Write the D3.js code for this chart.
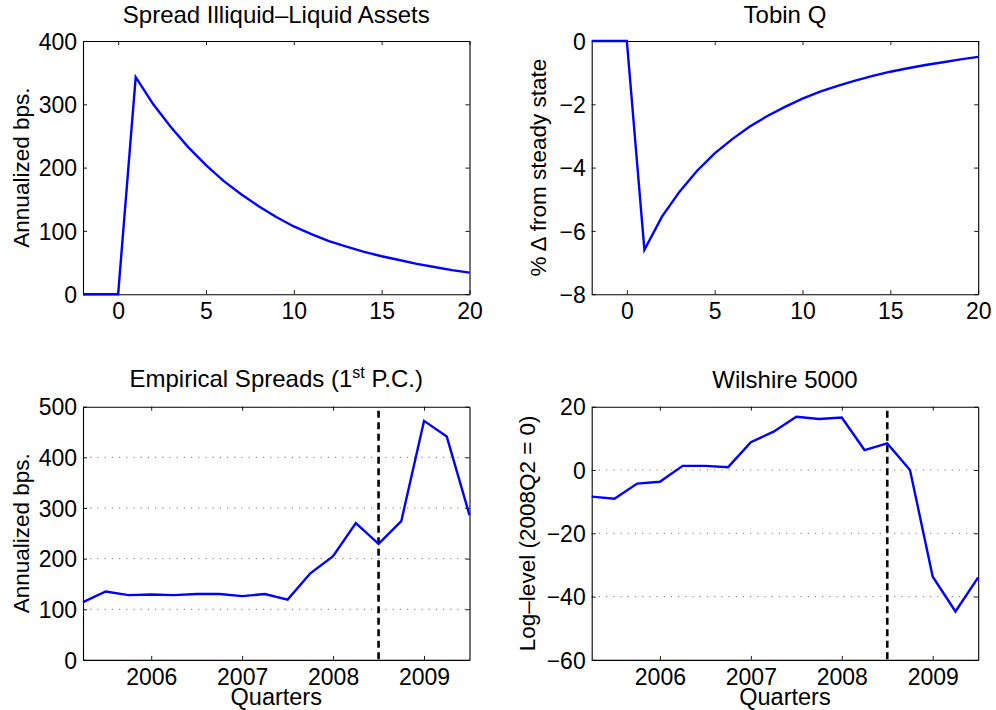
<!DOCTYPE html>
<html>
<head>
<meta charset="utf-8">
<script src="https://cdn.jsdelivr.net/npm/d3@7"></script>
<style>
    body { margin: 0; background: #fff; }
    text { font-family: "Liberation Sans", Arial, Helvetica, sans-serif; fill: #000; }
</style>
</head>
<body>
<svg id="chart" width="996" height="710"></svg>
<script>
// impulse responses, horizon in quarters
var horizon = [-2, -1, 0, 1, 2, 3, 4, 5, 6, 7, 8, 9, 10, 11, 12, 13, 14, 15, 16, 17, 18, 19, 20];
var spreadIRF = [0, 0, 0, 343, 300, 264, 232, 204, 179, 158, 139, 122, 107, 95, 84, 75, 67, 60, 54, 48, 43, 38, 34];
var tobinQIRF = [0, 0, 0, -6.6, -5.55, -4.76, -4.1, -3.55, -3.1, -2.7, -2.37, -2.08, -1.82, -1.6, -1.42, -1.25, -1.1, -0.97, -0.86, -0.76, -0.67, -0.58, -0.5];

// empirical data
var quarters = ["2005Q2", "2005Q3", "2005Q4", "2006Q1", "2006Q2", "2006Q3", "2006Q4", "2007Q1", "2007Q2",
    "2007Q3", "2007Q4", "2008Q1", "2008Q2", "2008Q3", "2008Q4", "2009Q1", "2009Q2", "2009Q3"];
var empiricalSpreads = [114, 135, 128, 129, 128, 130, 130, 126, 130, 119, 171, 205, 270, 229, 274, 472, 441, 286];
var wilshire5000 = [-8.4, -9.1, -4.3, -3.7, 1.3, 1.3, 0.9, 8.8, 12.1, 16.8, 16.1, 16.6, 6.3, 8.4, 0, -33.7, -44.7, -33.9];
var yearTicks = [2006, 2007, 2008, 2009];
var crisisQuarter = "2008Q3";

function quarterToNum(q) {
    return +q.slice(0, 4) + (+q.slice(5) - 1) / 4;
}

var svg = d3.select("#chart");

function drawPanel(cfg) {
    var g = svg.append("g").attr("transform", "translate(" + cfg.left + "," + cfg.top + ")");
    var w = cfg.width, h = cfg.height;

    var x = d3.scaleLinear().domain(cfg.xDomain).range([0, w]);
    var y = d3.scaleLinear().domain(cfg.yDomain).range([h, 0]);

    // dotted grid on inner y ticks
    if (cfg.grid) {
        g.append("g").selectAll("line")
            .data(cfg.yTicks.filter(function (d) {
                return d !== cfg.yDomain[0] && d !== cfg.yDomain[1];
            }))
            .enter().append("line")
            .attr("x1", 0).attr("x2", w)
            .attr("y1", function (d) { return y(d); })
            .attr("y2", function (d) { return y(d); })
            .attr("stroke", "#666")
            .attr("stroke-width", 0.9)
            .attr("stroke-dasharray", "1.2,6");
    }

    // axes, ticks pointing inwards, box on
    var tl = 4;
    var xAxis = g.append("g").attr("transform", "translate(0," + h + ")")
        .call(d3.axisBottom(x).tickValues(cfg.xTicks).tickSizeInner(-tl).tickSizeOuter(0)
            .tickFormat(d3.format("d")));
    xAxis.selectAll(".tick text").attr("y", cfg.xLabelOffset).attr("dy", 0);

    g.append("g")
        .call(d3.axisTop(x).tickValues(cfg.xTicks).tickSizeInner(-tl).tickSizeOuter(0).tickFormat(""));

    var yAxis = g.append("g")
        .call(d3.axisLeft(y).tickValues(cfg.yTicks).tickSizeInner(-tl).tickSizeOuter(0)
            .tickFormat(d3.format("d")));
    yAxis.selectAll(".tick text").attr("x", -6).attr("dy", "0.36em");

    g.append("g").attr("transform", "translate(" + w + ",0)")
        .call(d3.axisRight(y).tickValues(cfg.yTicks).tickSizeInner(-tl).tickSizeOuter(0).tickFormat(""));

    g.selectAll(".domain").attr("stroke", "#000").attr("stroke-width", 1.1);
    g.selectAll(".tick line").attr("stroke", "#000").attr("stroke-width", 0.9);
    g.selectAll(".tick text").attr("fill", "#000").style("font-size", "23px");

    // vertical marker
    if (cfg.vline !== undefined) {
        g.append("line")
            .attr("x1", x(cfg.vline)).attr("x2", x(cfg.vline))
            .attr("y1", 4).attr("y2", h)
            .attr("stroke", "#000")
            .attr("stroke-width", 2.6)
            .attr("stroke-dasharray", "7,4.5");
    }

    // series
    var line = d3.line()
        .x(function (d) { return x(d[0]); })
        .y(function (d) { return y(d[1]); });
    g.append("path")
        .datum(d3.zip(cfg.xs, cfg.ys))
        .attr("d", line)
        .attr("fill", "none")
        .attr("stroke", "#0000ff")
        .attr("stroke-width", 2.4)
        .attr("stroke-linejoin", "miter");

    // title
    var title = g.append("text")
        .attr("x", w / 2).attr("y", cfg.titleY)
        .attr("text-anchor", "middle")
        .style("font-size", "24px");
    cfg.title.forEach(function (part) {
        var ts = title.append("tspan").text(part.t);
        if (part.sup) ts.attr("dy", -9).style("font-size", "16px");
        if (part.after) ts.attr("dy", 9);
    });

    // y label
    g.append("text")
        .attr("transform", "translate(" + cfg.yLabelX + "," + (h / 2) + ") rotate(-90)")
        .attr("text-anchor", "middle")
        .style("font-size", "22.5px")
        .text(cfg.yLabel);

    if (cfg.xLabel) {
        g.append("text")
            .attr("x", w / 2).attr("y", h + 45)
            .attr("text-anchor", "middle")
            .style("font-size", "23.5px")
            .text(cfg.xLabel);
    }
}

var quarterNums = quarters.map(quarterToNum);
var qDomain = [quarterNums[0], quarterNums[quarterNums.length - 1]];
var left1 = 83, left2 = 591.7, pw = 386.5;
var top1 = 41, top2 = 406.7, ph = 253.2;

drawPanel({
    left: left1, top: top1, width: pw, height: ph,
    xDomain: [-2, 20], yDomain: [0, 400],
    xTicks: [0, 5, 10, 15, 20], yTicks: [0, 100, 200, 300, 400],
    xs: horizon, ys: spreadIRF, xLabelOffset: 24.5,
    title: [{t: "Spread Illiquid\u2013Liquid Assets"}], titleY: -17.7,
    yLabel: "Annualized bps.", yLabelX: -54
});

drawPanel({
    left: left2, top: top1, width: pw, height: ph,
    xDomain: [-2, 20], yDomain: [-8, 0],
    xTicks: [0, 5, 10, 15, 20], yTicks: [-8, -6, -4, -2, 0],
    xs: horizon, ys: tobinQIRF, xLabelOffset: 24.5,
    title: [{t: "Tobin Q"}], titleY: -17.7,
    yLabel: "% \u0394 from steady state", yLabelX: -45.5
});

drawPanel({
    left: left1, top: top2, width: pw, height: ph,
    xDomain: qDomain, yDomain: [0, 500],
    xTicks: yearTicks, yTicks: [0, 100, 200, 300, 400, 500],
    xs: quarterNums, ys: empiricalSpreads, xLabelOffset: 25, grid: true,
    vline: quarterToNum(crisisQuarter),
    title: [{t: "Empirical Spreads (1"}, {t: "st", sup: true}, {t: " P.C.)", after: true}], titleY: -19.5,
    yLabel: "Annualized bps.", yLabelX: -54, xLabel: "Quarters"
});

drawPanel({
    left: left2, top: top2, width: pw, height: ph,
    xDomain: qDomain, yDomain: [-60, 20],
    xTicks: yearTicks, yTicks: [-60, -40, -20, 0, 20],
    xs: quarterNums, ys: wilshire5000, xLabelOffset: 25, grid: true,
    vline: quarterToNum(crisisQuarter),
    title: [{t: "Wilshire 5000"}], titleY: -19,
    yLabel: "Log\u2013level (2008Q2 = 0)", yLabelX: -56.5, xLabel: "Quarters"
});
</script>
</body>
</html>
